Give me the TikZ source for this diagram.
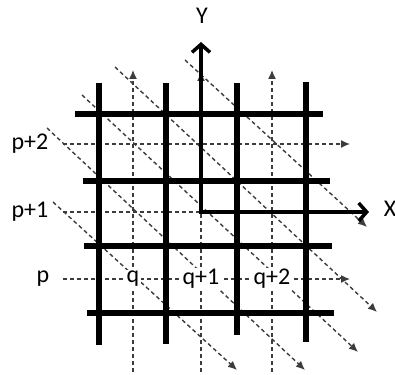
\documentclass[tikz,border=0pt]{standalone}
\usepackage{fontspec}
\setmainfont{Carlito}
\usetikzlibrary{arrows.meta}
\definecolor{dashgray}{RGB}{60,60,60}
\tikzset{
  thickline/.style={line width=6.5pt, black},
  guide/.style={draw=dashgray, line width=1.4pt, dash pattern=on 4pt off 3pt, -{Latex[length=9pt,width=8pt]}},
  guidenoarrow/.style={draw=dashgray, line width=1.4pt, dash pattern=on 4pt off 3pt},
  axis/.style={line width=3.5pt, black, {Straight Barb[length=8pt,width=18pt,line width=3.5pt]}-{Straight Barb[length=8pt,width=18pt,line width=3.5pt]}},
  lab/.style={font=\fontsize{24}{28}\selectfont, fill=white, inner sep=1.5pt, text=black},
  axlab/.style={font=\fontsize{24}{28}\selectfont, inner sep=0pt, text=black}
}
\begin{document}
\begin{tikzpicture}[x=1pt,y=-1pt]
\useasboundingbox (0,0) rectangle (395,374);
% diagonal guides
\draw[guide] (185,60) -- (367,227);
\draw[guide] (115,67) -- (377,312);
\draw[guide] (82,95) -- (358,352);
\draw[guide] (47,128) -- (305,370);
\draw[guide] (53,202) -- (237,370);
% vertical guides
\draw[guide] (133,372) -- (133,70);
\draw[guide] (201,372) -- (201,72);
\draw[guide] (272,372) -- (272,70);
% horizontal guides
\draw[guide] (63,144) -- (350,144);
\draw[guidenoarrow] (63,212) -- (201,212);
\draw[guide] (63,279) -- (350,279);
% labels
\node[lab] (p2) at (30,144) {p+2};
\node[lab] (p1) at (30,212) {p+1};
\node[lab] (p0) at (43,279) {p};
\node[lab] (q0) at (133,279) {q};
\node[lab] (q1) at (201,279) {q+1};
\node[lab] (q2) at (272,279) {q+2};
% thick grid
\draw[thickline] (75,114) -- (323,114);
\draw[thickline] (83,181) -- (330,181);
\draw[thickline] (84,246) -- (332,246);
\draw[thickline] (87,313) -- (334,313);
\draw[thickline] (99,83) -- (99,345);
\draw[thickline] (166,83) -- (166,344);
\draw[thickline] (237,83) -- (237,335);
\draw[thickline] (306,82) -- (306,342);
% axes
\coordinate (o) at (201,212);
\coordinate (ytip) at (201,42);
\coordinate (xtip) at (369,212);
\draw[axis] (ytip) -- (o) -- (xtip);
\node[axlab] (Y) at (202,16) {Y};
\node[axlab] (X) at (390,209) {X};
\end{tikzpicture}
\end{document}
